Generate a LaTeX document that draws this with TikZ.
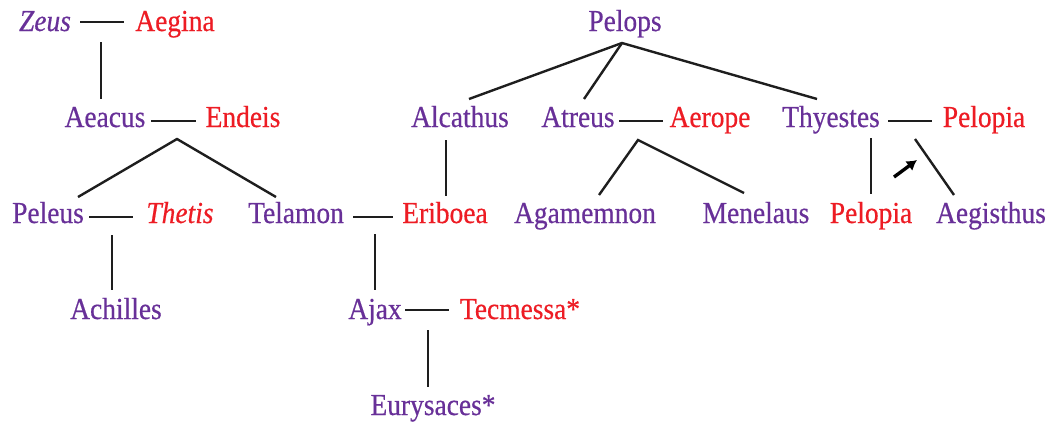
\documentclass[tikz,border=0pt]{standalone}
\usepackage{fontspec}
\setmainfont{Liberation Serif}[FakeStretch=0.9,FakeBold=0.5]
\usetikzlibrary{arrows.meta}
\definecolor{pur}{RGB}{104,48,152}
\definecolor{rd}{RGB}{237,28,36}
\definecolor{ln}{RGB}{30,30,30}
\tikzset{
  nm/.style={anchor=base,inner sep=0pt,font=\fontsize{30.5}{34}\selectfont},
  m/.style={nm,text=pur},
  f/.style={nm,text=rd},
  link/.style={draw=ln,line width=2.4pt},
  ptr/.style={draw=black,line width=3.4pt,-{Latex[length=10pt,width=12pt]}}
}
\begin{document}
\begin{tikzpicture}[x=1pt,y=-1pt]
\useasboundingbox (0,0) rectangle (1059,421);
% nodes
\node[m] (zeus) at (45,31) {\itshape Zeus};
\node[f] (aegina) at (175,31) {Aegina};
\node[m] (aeacus) at (105,127) {Aeacus};
\node[f] (endeis) at (243,127) {Endeis};
\node[m] (peleus) at (48,223) {Peleus};
\node[f] (thetis) at (180,223) {\itshape Thetis};
\node[m] (telamon) at (296,223) {Telamon};
\node[f] (eriboea) at (445,223) {Eriboea};
\node[m] (achilles) at (116,319) {Achilles};
\node[m] (ajax) at (375,319) {Ajax};
\node[f] (tecmessa) at (520,319) {Tecmessa*};
\node[m] (eurysaces) at (433,415) {Eurysaces*};
\node[m] (pelops) at (625,31) {Pelops};
\node[m] (alcathus) at (460,127) {Alcathus};
\node[m] (atreus) at (578,127) {Atreus};
\node[f] (aerope) at (710,127) {Aerope};
\node[m] (thyestes) at (831,127) {Thyestes};
\node[f] (pelopiaA) at (984,127) {Pelopia};
\node[m] (agamemnon) at (585,223) {Agamemnon};
\node[m] (menelaus) at (756,223) {Menelaus};
\node[f] (pelopiaB) at (871,223) {Pelopia};
\node[m] (aegisthus) at (991,223) {Aegisthus};
% couple lines
\coordinate (za1) at (80,22);   \coordinate (za2) at (124,22);
\coordinate (ae1) at (151,121); \coordinate (ae2) at (196,121);
\coordinate (pt1) at (89,217);  \coordinate (pt2) at (133,217);
\coordinate (te1) at (353,217); \coordinate (te2) at (393,217);
\coordinate (at1) at (405,310); \coordinate (at2) at (449,310);
\coordinate (aa1) at (619,121); \coordinate (aa2) at (663,121);
\coordinate (tp1) at (888,121); \coordinate (tp2) at (932,121);
\draw[link] (za1) -- (za2);
\draw[link] (ae1) -- (ae2);
\draw[link] (pt1) -- (pt2);
\draw[link] (te1) -- (te2);
\draw[link] (at1) -- (at2);
\draw[link] (aa1) -- (aa2);
\draw[link] (tp1) -- (tp2);
% descent lines
\coordinate (zv1) at (101,42);  \coordinate (zv2) at (101,99);
\draw[link] (zv1) -- (zv2);
\coordinate (aeA) at (177,139); \coordinate (aeL) at (78,197); \coordinate (aeR) at (276,197);
\draw[link] (aeL) -- (aeA) -- (aeR);
\coordinate (pv1) at (112,235); \coordinate (pv2) at (112,290);
\draw[link] (pv1) -- (pv2);
\coordinate (tv1) at (375,234); \coordinate (tv2) at (375,290);
\draw[link] (tv1) -- (tv2);
\coordinate (av1) at (428,330); \coordinate (av2) at (428,387);
\draw[link] (av1) -- (av2);
\coordinate (alv1) at (446,140); \coordinate (alv2) at (446,196);
\draw[link] (alv1) -- (alv2);
\coordinate (pA) at (622,43); \coordinate (pL) at (469,99); \coordinate (pM) at (584,99); \coordinate (pR) at (817,99);
\draw[link] (pL) -- (pA) -- (pR);
\draw[link] (pA) -- (pM);
\coordinate (arA) at (638,140); \coordinate (arL) at (599,195); \coordinate (arR) at (744,193);
\draw[link] (arL) -- (arA) -- (arR);
\coordinate (tv3) at (871,138); \coordinate (tv4) at (871,194);
\draw[link] (tv3) -- (tv4);
\coordinate (td1) at (915,139); \coordinate (td2) at (954,195);
\draw[link] (td1) -- (td2);
\coordinate (ar1) at (894,177); \coordinate (ar2) at (917,160);
\draw[ptr] (ar1) -- (ar2);
\end{tikzpicture}
\end{document}
